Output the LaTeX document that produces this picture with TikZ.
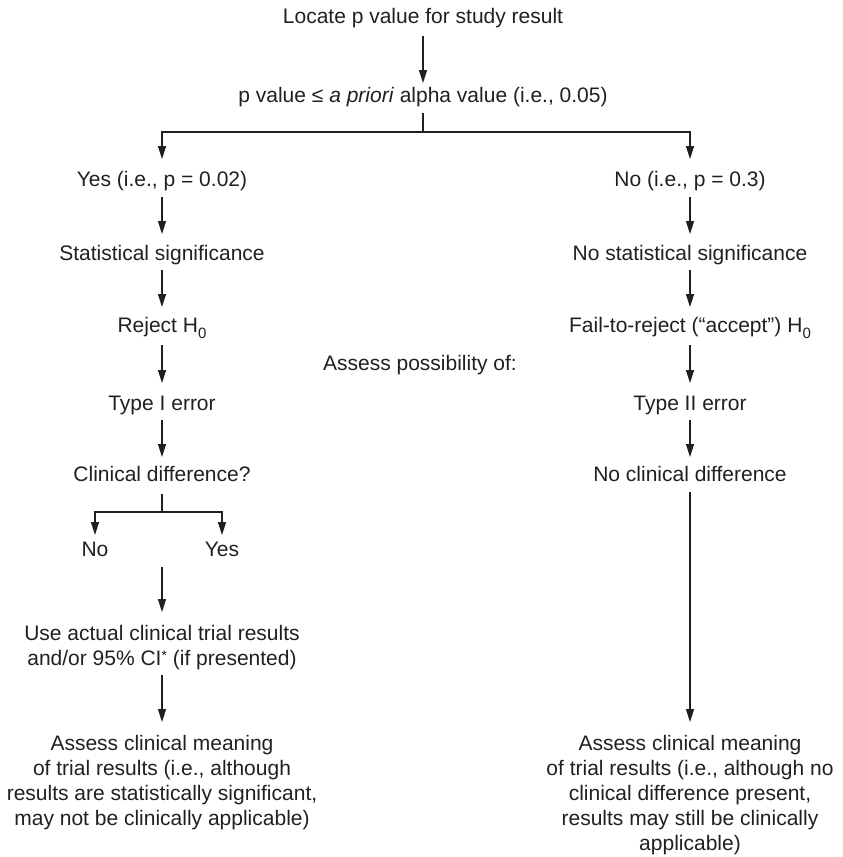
\documentclass[tikz,border=0pt]{standalone}
\usepackage{fontspec}
\setmainfont{Liberation Sans}
\usetikzlibrary{arrows.meta}
\definecolor{ink}{RGB}{35,31,32}
% fixed line height and depth so that every label has the same box
\newcommand\capstrut{\rule{0pt}{16pt}}
\newcommand\descstrut{\rule[-5pt]{0pt}{5pt}}
% lowered subscript zero for H0
\newcommand\subzero{\raisebox{-6pt}[0pt][0pt]{\fontsize{15}{15}\selectfont 0}}
% small raised asterisk
\newcommand\starmark{\raisebox{4.5pt}{\fontsize{14}{14}\selectfont *}}

\begin{document}
\begin{tikzpicture}[x=1pt,y=-1pt,
  every node/.style={font=\fontsize{21}{25}\selectfont, text=ink},
  lbl/.style={anchor=north, inner sep=0pt, outer sep=0pt, align=center},
  link/.style={draw=ink, line width=1.5pt},
  arr/.style={link, -{Triangle[length=13pt,width=8pt]}, shorten <=6pt, shorten >=10pt},
]
\useasboundingbox (0,0) rectangle (843,857);

% top of the chart
\node[lbl] (locate) at (423,7)  {\capstrut Locate p value for study result\descstrut};
\node[lbl] (pval)   at (423,86) {\capstrut p value ≤ \textit{a priori} alpha value (i.e., 0.05)\descstrut};
\coordinate (j1) at (423,132);

% left branch
\node[lbl] (yes)    at (162,170) {\capstrut Yes (i.e., p = 0.02)\descstrut};
\node[lbl] (stat)   at (162,244) {\capstrut Statistical significance\descstrut};
\node[lbl] (reject) at (162,316) {\capstrut Reject H\subzero\descstrut};
\node[lbl] (typeI)  at (162,394) {\capstrut Type I error\descstrut};
\node[lbl] (clin)   at (162,465) {\capstrut Clinical difference?\descstrut};
\coordinate (j2) at (162,512);
\node[lbl] (cno)    at (95,540)  {\capstrut No\descstrut};
\node[lbl] (cyes)   at (222,540) {\capstrut Yes\descstrut};
\coordinate (ny) at (162,567);
\node[lbl] (use)    at (162,624) {\capstrut Use actual clinical trial results\\
  and/or 95\% CI\starmark{} (if presented)\descstrut};
\node[lbl] (assessL) at (162,734) {\capstrut Assess clinical meaning\\
  of trial results (i.e., although\\
  results are statistically significant,\\
  may not be clinically applicable)\descstrut};

% right branch
\node[lbl] (no)     at (690,170) {\capstrut No (i.e., p = 0.3)\descstrut};
\node[lbl] (nostat) at (690,244) {\capstrut No statistical significance\descstrut};
\node[lbl] (fail)   at (690,316) {\capstrut Fail-to-reject (“accept”) H\subzero\descstrut};
\node[lbl] (typeII) at (690,394) {\capstrut Type II error\descstrut};
\node[lbl] (noclin) at (690,465) {\capstrut No clinical difference\descstrut};
\node[lbl] (assessR) at (690,734) {\capstrut Assess clinical meaning\\
  of trial results (i.e., although no\\
  clinical difference present,\\
  results may still be clinically\\
  applicable)\descstrut};

% middle label
\node[lbl] (possib) at (420,354) {\capstrut Assess possibility of:\descstrut};

% connectors
\draw[arr, shorten <=8pt, shorten >=3pt] (locate) -- (pval);
\draw[link, shorten <=6pt] (pval) -- (j1);
\draw[arr, shorten <=0pt, shorten >=11pt] (j1) -| (yes.north);
\draw[arr, shorten <=0pt, shorten >=11pt] (j1) -| (no.north);

\draw[arr] (yes) -- (stat);
\draw[arr, shorten <=5pt, shorten >=9pt] (stat) -- (reject);
\draw[arr, shorten <=8pt, shorten >=11pt] (reject) -- (typeI);
\draw[arr, shorten <=5pt, shorten >=8pt] (typeI) -- (clin);
\draw[link, shorten <=8pt] (clin) -- (j2);
\draw[arr, shorten <=0pt, shorten >=5pt] (j2) -| (cno.north);
\draw[arr, shorten <=0pt, shorten >=5pt] (j2) -| (cyes.north);
\draw[arr, shorten <=0pt, shorten >=12pt] (ny) -- (use);
\draw[arr, shorten <=5pt, shorten >=12pt] (use) -- (assessL);

\draw[arr] (no) -- (nostat);
\draw[arr, shorten <=5pt, shorten >=9pt] (nostat) -- (fail);
\draw[arr, shorten <=8pt, shorten >=11pt] (fail) -- (typeII);
\draw[arr, shorten <=5pt, shorten >=8pt] (typeII) -- (noclin);
\draw[arr, shorten <=6pt, shorten >=12pt] (noclin) -- (assessR);
\end{tikzpicture}
\end{document}
